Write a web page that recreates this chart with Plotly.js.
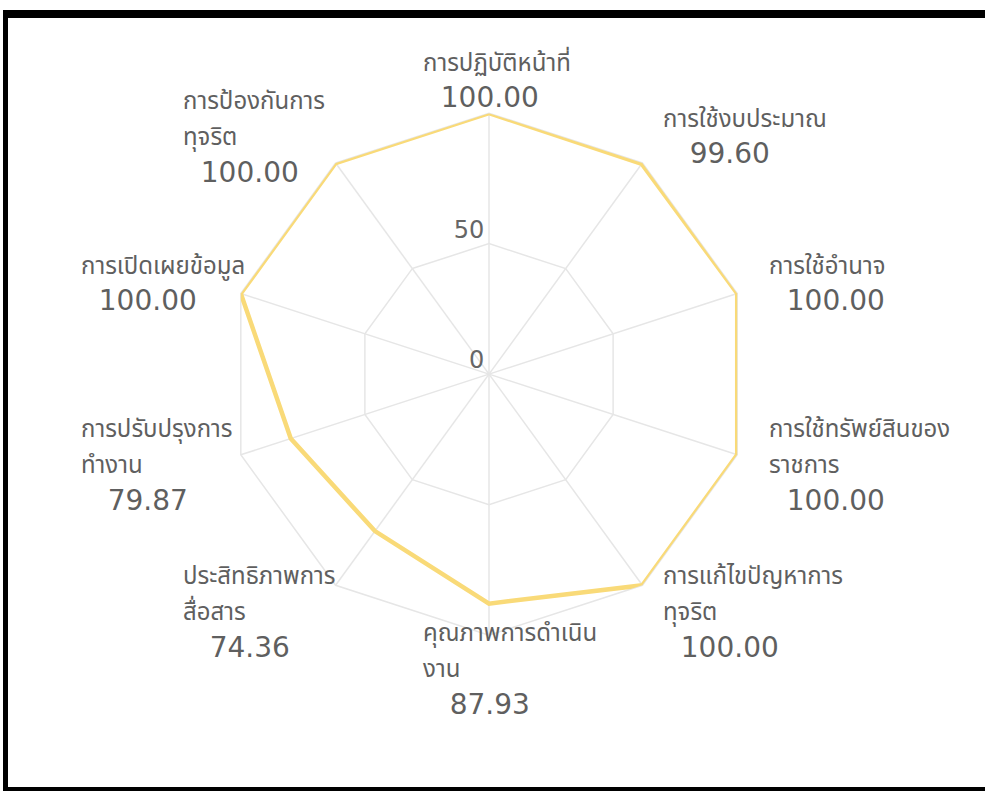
<!DOCTYPE html>
<html>
<head>
<meta charset="utf-8">
<script src="https://cdn.plot.ly/plotly-3.0.1.min.js"></script>
<style>
  html, body { margin: 0; padding: 0; background: #fff; overflow: hidden; }
  #wrap { position: relative; width: 985px; height: 791px; overflow: hidden; }
  #chart { position: absolute; left: 0; top: 0; width: 985px; height: 791px; }
  #frame { position: absolute; left: 3px; top: 10px; width: 977px; height: 769px;
           border-top: 8px solid #000; border-left: 5px solid #000; border-bottom: 4px solid #000;
           pointer-events: none; }
</style>
</head>
<body>
<div id="wrap">
  <div id="chart"></div>
  <div id="frame"></div>
</div>
<script>
// ---- data ----
const categories = [
  "การปฏิบัติหน้าที่",
  "การใช้งบประมาณ",
  "การใช้อำนาจ",
  "การใช้ทรัพย์สินของราชการ",
  "การแก้ไขปัญหาการทุจริต",
  "คุณภาพการดำเนินงาน",
  "ประสิทธิภาพการสื่อสาร",
  "การปรับปรุงการทำงาน",
  "การเปิดเผยข้อมูล",
  "การป้องกันการทุจริต"
];
const categoryLines = [
  ["การปฏิบัติหน้าที่"],
  ["การใช้งบประมาณ"],
  ["การใช้อำนาจ"],
  ["การใช้ทรัพย์สินของ", "ราชการ"],
  ["การแก้ไขปัญหาการ", "ทุจริต"],
  ["คุณภาพการดำเนิน", "งาน"],
  ["ประสิทธิภาพการ", "สื่อสาร"],
  ["การปรับปรุงการ", "ทำงาน"],
  ["การเปิดเผยข้อมูล"],
  ["การป้องกันการ", "ทุจริต"]
];
const scores = [100.00, 99.60, 100.00, 100.00, 100.00, 87.93, 74.36, 79.87, 100.00, 100.00];
const radialTicks = [0, 50];
const radialMin = 0, radialMax = 100;

// ---- geometry of the polar area (from its domain) ----
const W = 985, H = 791;
const domX = [0.2315, 0.7614], domY = [0.197, 0.857];
const cxPx = (domX[0] + domX[1]) / 2 * W;
const cyPx = (1 - (domY[0] + domY[1]) / 2) * H;
const Rpx = (domX[1] - domX[0]) / 2 * W;

const THAI = "'Noto Sans Thai', 'Noto Sans', sans-serif";
const NUM = "'DejaVu Sans', sans-serif";

const nameSpan = s => "<span style=\"font-size:24px\">" + s + "</span>";
const valueSpan = v => "<span style=\"font-family:DejaVu Sans;font-size:28px\">" +
  v.toFixed(2).padStart(8, "\u00a0") + "</span>";

// label annotations placed around the outer ring, one per category
const n = categories.length;
const annotations = categories.map((c, i) => {
  const th = i * 2 * Math.PI / n;
  const sx = Math.sin(th), cs = Math.cos(th);
  const vx = cxPx + Rpx * sx, vy = cyPx - Rpx * cs;
  let xl;
  if (Math.abs(sx) < 0.1) xl = vx - 68;
  else if (sx > 0) xl = vx + 31 * sx;
  else xl = vx - 143 - 20 * Math.abs(sx);
  const ym = vy - 33 * cs;
  return {
    xref: "paper", yref: "paper",
    x: xl / W, y: 1 - ym / H,
    xanchor: "left", yanchor: "middle",
    align: "left",
    showarrow: false,
    text: categoryLines[i].map(nameSpan).join("<br>") + "<br>" + valueSpan(scores[i]),
    font: { family: THAI, size: 28, color: "#5f5f5f" }
  };
});

const trace = {
  type: "scatterpolar",
  mode: "lines",
  r: scores.concat([scores[0]]),
  theta: categories.concat([categories[0]]),
  line: { color: "#f9da78", width: 4.5 },
  fill: "none",
  hoverinfo: "skip",
  showlegend: false
};

const tickTrace = {
  type: "scatterpolar",
  mode: "text",
  r: radialTicks,
  theta: radialTicks.map(() => categories[0]),
  text: radialTicks.map(t => String(t) + "\u2009"),
  textposition: "top left",
  textfont: { family: NUM, size: 24, color: "#666666" },
  cliponaxis: true,
  hoverinfo: "skip",
  showlegend: false
};

const layout = {
  width: W,
  height: H,
  margin: { l: 0, r: 0, t: 0, b: 0 },
  paper_bgcolor: "#ffffff",
  font: { family: THAI, color: "#5f5f5f" },
  showlegend: false,
  annotations: annotations,
  polar: {
    domain: { x: domX, y: domY },
    bgcolor: "rgba(0,0,0,0)",
    gridshape: "linear",
    radialaxis: {
      range: [radialMin, radialMax],
      tickvals: radialTicks,
      showticklabels: false,
      angle: 90,
      showline: false,
      ticks: "",
      layer: "below traces",
      gridcolor: "#e6e6e6",
      gridwidth: 1.5
    },
    angularaxis: {
      type: "category",
      categoryorder: "array",
      categoryarray: categories,
      direction: "clockwise",
      rotation: 90,
      showline: true,
      linecolor: "#e6e6e6",
      linewidth: 1.5,
      gridcolor: "#e6e6e6",
      gridwidth: 1.5,
      layer: "below traces",
      ticks: "",
      showticklabels: false
    }
  }
};

Plotly.newPlot("chart", [trace, tickTrace], layout, { displayModeBar: false, staticPlot: true });
</script>
</body>
</html>
